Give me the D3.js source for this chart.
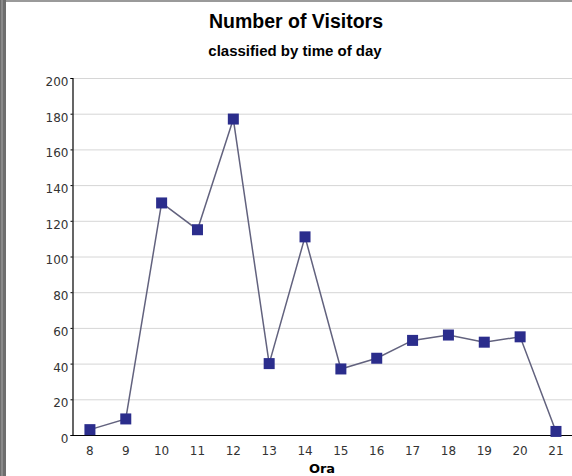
<!DOCTYPE html>
<html>
<head>
<meta charset="utf-8">
<script src="https://cdn.jsdelivr.net/npm/d3@7"></script>
<style>
  body { margin: 0; background: #fff; }
  svg { display: block; }
</style>
</head>
<body>
<svg id="chart"></svg>
<script>
const hours = ['8', '9', '10', '11', '12', '13', '14', '15', '16', '17', '18', '19', '20', '21'];
const visitors = [3, 9, 130, 115, 177, 40, 111, 37, 43, 53, 56, 52, 55, 2];
const yTicks = [0, 20, 40, 60, 80, 100, 120, 140, 160, 180, 200];

const width = 572;
const height = 476;
const margin = { left: 72, top: 78, bottom: 435 };

const svg = d3.select('#chart')
              .attr('width', width)
              .attr('height', height);

// frame bits round the picture
svg.append('rect').attr('x', 0).attr('y', 0).attr('width', width).attr('height', 2).attr('fill', '#9a9a9a');
svg.append('rect').attr('x', 0).attr('y', 0).attr('width', 6).attr('height', height).attr('fill', '#6e6e6e');
svg.append('rect').attr('x', 1).attr('y', 0).attr('width', 2).attr('height', height).attr('fill', '#8a8a8a');

const x = d3.scaleBand()
            .domain(hours)
            .range([margin.left, margin.left + 14 * 35.85]);

const y = d3.scaleLinear()
            .domain([0, 200])
            .range([margin.bottom, margin.top]);

// grid lines
svg.append('g')
   .selectAll('line')
   .data(yTicks.filter(d => d > 0))
   .enter()
   .append('line')
   .attr('x1', margin.left)
   .attr('x2', width)
   .attr('y1', d => y(d) + 0.5)
   .attr('y2', d => y(d) + 0.5)
   .attr('stroke', '#d6d6d6')
   .attr('stroke-width', 1);

const yAxis = d3.axisLeft(y)
                .tickValues(yTicks)
                .tickSize(2)
                .tickPadding(2);

svg.append('g')
   .attr('transform', `translate(${margin.left + 0.5}, 0)`)
   .call(yAxis)
   .call(g => g.select('.domain').attr('stroke', '#000').attr('stroke-width', 1.2))
   .call(g => g.selectAll('text')
               .attr('font-family', 'DejaVu Sans')
               .attr('font-size', 12)
               .attr('fill', '#333')
               .attr('dy', '0.62em'));

const xAxis = d3.axisBottom(x)
                .tickSize(0)
                .tickPadding(11);

svg.append('g')
   .attr('transform', `translate(0, ${margin.bottom + 0.5})`)
   .call(xAxis)
   .call(g => g.select('.domain')
               .attr('d', `M${margin.left},0H${width}`)
               .attr('stroke', '#000')
               .attr('stroke-width', 1.2))
   .call(g => g.selectAll('text')
               .attr('font-family', 'DejaVu Sans')
               .attr('font-size', 12)
               .attr('fill', '#333'));

const line = d3.line()
               .x((d, i) => x(hours[i]) + x.bandwidth() / 2)
               .y(d => y(d));

svg.append('path')
   .datum(visitors)
   .attr('d', line)
   .attr('fill', 'none')
   .attr('stroke', '#62627e')
   .attr('stroke-width', 1.5);

const size = 11;
svg.append('g')
   .selectAll('rect')
   .data(visitors)
   .enter()
   .append('rect')
   .attr('x', (d, i) => x(hours[i]) + x.bandwidth() / 2 - size / 2)
   .attr('y', d => y(d) - size / 2)
   .attr('width', size)
   .attr('height', size)
   .attr('fill', '#2b2d8c');

// titles
svg.append('text')
   .attr('x', 296)
   .attr('y', 28)
   .attr('text-anchor', 'middle')
   .attr('font-family', 'Liberation Sans, Arial')
   .attr('font-weight', 'bold')
   .attr('font-size', 19.5)
   .text('Number of Visitors');

svg.append('text')
   .attr('x', 295)
   .attr('y', 56)
   .attr('text-anchor', 'middle')
   .attr('font-family', 'Liberation Sans, Arial')
   .attr('font-weight', 'bold')
   .attr('font-size', 15)
   .text('classified by time of day');

svg.append('text')
   .attr('x', 322)
   .attr('y', 473)
   .attr('text-anchor', 'middle')
   .attr('font-family', 'DejaVu Sans')
   .attr('font-weight', 'bold')
   .attr('font-size', 13)
   .text('Ora');
</script>
</body>
</html>
